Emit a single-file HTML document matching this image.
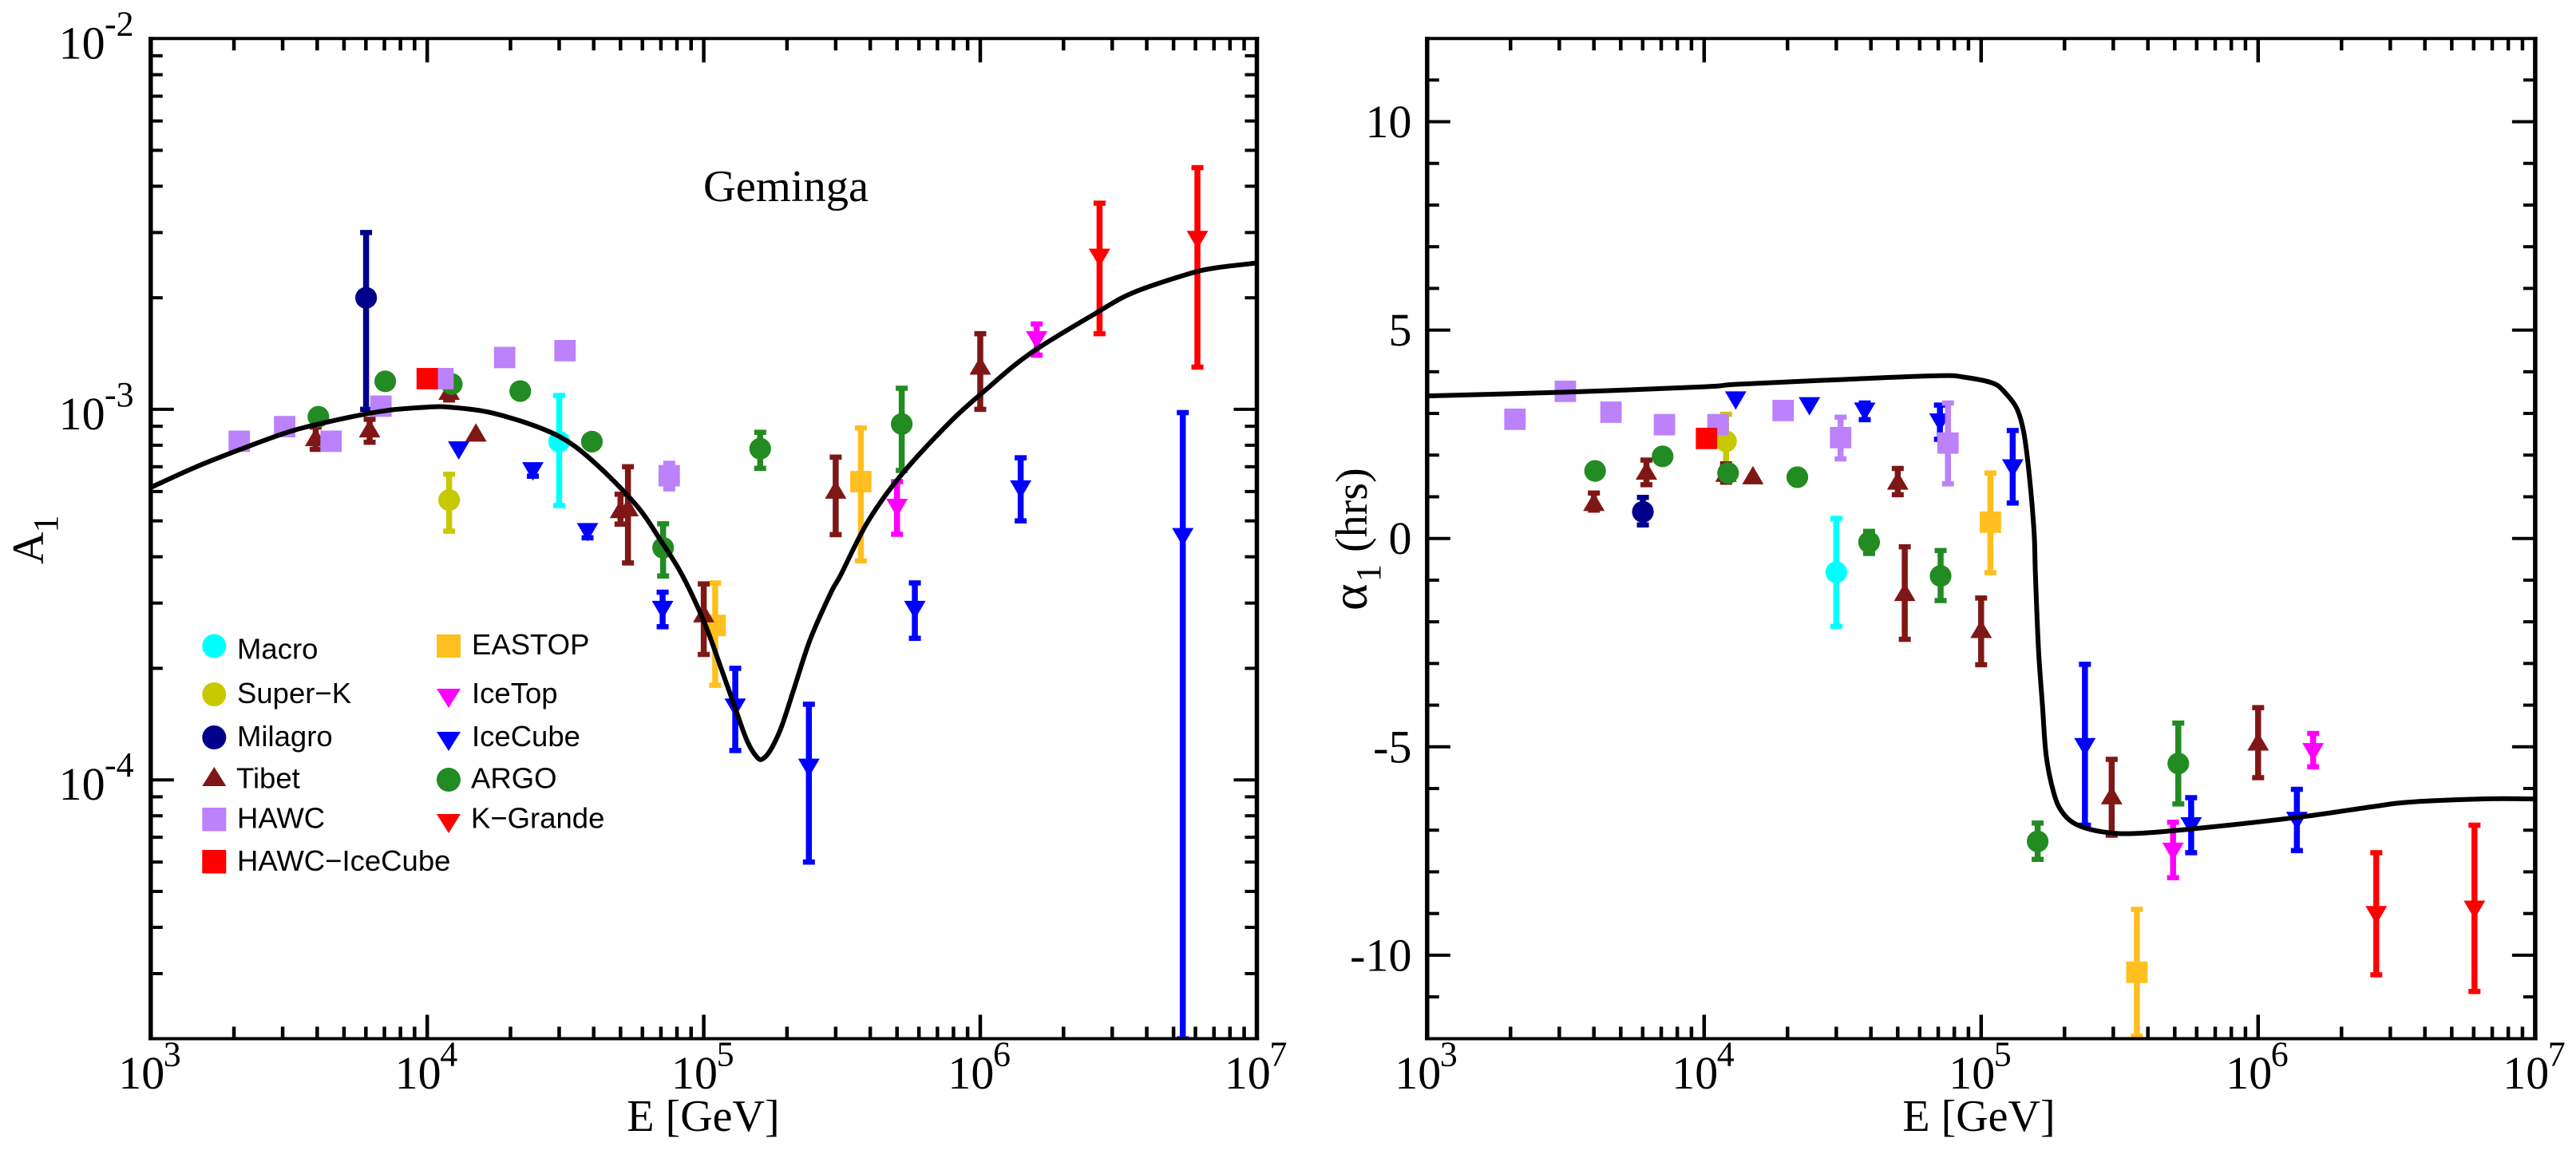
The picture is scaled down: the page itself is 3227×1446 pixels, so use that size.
<!DOCTYPE html>
<html lang="en">
<head>
<meta charset="utf-8">
<title>Geminga anisotropy amplitude and phase</title>
<style>
html,body{margin:0;padding:0;background:#fff;width:3227px;height:1446px;overflow:hidden}
svg{position:absolute;left:0;top:0;display:block}
.serif{font-family:"Liberation Serif",serif;fill:#000}
.sans{font-family:"Liberation Sans",sans-serif;fill:#000;font-size:36.5px}
</style>
</head>
<body>
<svg id="chart" xmlns="http://www.w3.org/2000/svg" width="3227" height="1446" viewBox="0 0 3227 1446">
  <rect x="0" y="0" width="3227" height="1446" fill="#ffffff"/>
  <defs>
    <clipPath id="clip-left"><rect x="189" y="48" width="1386" height="1254"/></clipPath>
    <clipPath id="clip-right"><rect x="1788" y="48" width="1388" height="1254"/></clipPath>
  </defs>
  <g id="panel-left"></g>
  <g id="panel-right"></g>

  <text class="serif" x="881" y="252" font-size="56.5">Geminga</text>
  <text class="serif" x="881" y="1417" font-size="56" text-anchor="middle">E [GeV]</text>
  <text class="serif" x="2479" y="1417" font-size="56" text-anchor="middle">E [GeV]</text>
  <text class="serif" transform="translate(54,707) rotate(-90)" font-size="56">A<tspan font-size="44" dy="18" dx="-1">1</tspan></text>
  <text class="serif" transform="translate(1712,765) rotate(-90)"><tspan font-size="64" x="0">α</tspan><tspan font-size="44" x="36" dy="17">1</tspan><tspan font-size="56" x="73" dy="-17">(hrs)</tspan></text>

  <g>
    <g><circle cx="268.3" cy="809.5" r="15" fill="#00ffff"/><text class="sans" x="297" y="825.5">Macro</text></g>
    <g><circle cx="268.3" cy="870" r="15" fill="#c8c800"/><text class="sans" x="297" y="881">Super−K</text></g>
    <g><circle cx="268.3" cy="924" r="15" fill="#00008b"/><text class="sans" x="297" y="935">Milagro</text></g>
    <g><polygon points="268.3,961 283.3,985 253.3,985" fill="#7f1717"/><text class="sans" x="296" y="987.5">Tibet</text></g>
    <g><rect x="253.3" y="1012" width="30" height="29.5" fill="#bb82fb"/><text class="sans" x="297" y="1037.5">HAWC</text></g>
    <g><rect x="253.3" y="1065" width="30" height="29.5" fill="#ff0000"/><text class="sans" x="297" y="1091">HAWC−IceCube</text></g>
    <g><rect x="547" y="795" width="30" height="29" fill="#ffbf1f"/><text class="sans" x="591" y="820">EASTOP</text></g>
    <g><polygon points="547,863 577,863 562,887" fill="#ff00ff"/><text class="sans" x="591" y="881">IceTop</text></g>
    <g><polygon points="547,917 577,917 562,941" fill="#0000ff"/><text class="sans" x="591" y="935">IceCube</text></g>
    <g><circle cx="562" cy="977" r="15" fill="#228b22"/><text class="sans" x="590" y="987.5">ARGO</text></g>
    <g><polygon points="547,1020 577,1020 562,1044" fill="#ff0000"/><text class="sans" x="590" y="1037.5">K−Grande</text></g>
  </g>
</svg>

<script>
// ---------- axis ticks ----------
const xDecadeExponents = [3, 4, 5, 6, 7];
const ampDecadeExponents = [-2, -3, -4];
const ampMinorExponents = [-5, -4, -3];
const minorMultipliers = [2, 3, 4, 5, 6, 7, 8, 9];
const phaseMajorTicks = [-10, -5, 0, 5, 10];
const phaseMinorTicks = [-11, -9, -8, -7, -6, -4, -3, -2, -1, 1, 2, 3, 4, 6, 7, 8, 9, 11];

// ---------- amplitude panel A1 vs E ----------
const ampMacroE = [30000];
const ampMacroV = [8.18e-4];
const ampMacroHi = [1.09e-3];
const ampMacroLo = [5.5e-4];

const ampSuperKE = [12000];
const ampSuperKV = [5.69e-4];
const ampSuperKHi = [6.68e-4];
const ampSuperKLo = [4.69e-4];

const ampMilagroE = [6010];
const ampMilagroV = [2.0e-3];
const ampMilagroHi = [3.0e-3];
const ampMilagroLo = [1.0e-3];

const ampEastopE = [110000, 370000];
const ampEastopV = [2.61e-4, 6.38e-4];
const ampEastopHi = [3.4e-4, 8.91e-4];
const ampEastopLo = [1.8e-4, 3.9e-4];

const ampIceTopE = [500000, 1.6e6];
const ampIceTopV = [5.43e-4, 1.54e-3];
const ampIceTopHi = [6.38e-4, 1.7e-3];
const ampIceTopLo = [4.6e-4, 1.4e-3];

const ampIceCubeE = [13000, 24100, 38000, 71000, 130000, 240000, 580000, 1.4e6, 5.4e6];
const ampIceCubeV = [7.76e-4, 6.82e-4, 4.67e-4, 2.88e-4, 1.57e-4, 1.08e-4, 2.88e-4, 6.09e-4, 4.53e-4];
const ampIceCubeHi = [null, 7.0e-4, 4.85e-4, 3.21e-4, 2.0e-4, 1.6e-4, 3.4e-4, 7.4e-4, 9.8e-4];
const ampIceCubeLo = [null, 6.6e-4, 4.5e-4, 2.59e-4, 1.2e-4, 6.0e-5, 2.41e-4, 5.0e-4, 2.0e-5];

const ampKGrandeE = [2.7e6, 6.1e6];
const ampKGrandeV = [2.57e-3, 2.87e-3];
const ampKGrandeHi = [3.6e-3, 4.49e-3];
const ampKGrandeLo = [1.6e-3, 1.3e-3];

const ampTibetE = [3950, 6190, 12000, 15000, 50000, 53200, 100000, 300000, 1.0e6];
const ampTibetV = [8.4e-4, 8.87e-4, 1.12e-3, 8.64e-4, 5.37e-4, 5.43e-4, 2.81e-4, 6.06e-4, 1.31e-3];
const ampTibetHi = [8.96e-4, 9.4e-4, 1.18e-3, null, 5.9e-4, 7.0e-4, 3.38e-4, 7.43e-4, 1.6e-3];
const ampTibetLo = [7.8e-4, 8.15e-4, 1.06e-3, null, 4.9e-4, 3.85e-4, 2.18e-4, 4.59e-4, 1.0e-3];

const ampArgoE = [4040, 7050, 12270, 21700, 39400, 71300, 160000, 520000];
const ampArgoV = [9.55e-4, 1.19e-3, 1.17e-3, 1.12e-3, 8.18e-4, 4.23e-4, 7.83e-4, 9.13e-4];
const ampArgoHi = [null, null, null, null, 8.45e-4, 4.91e-4, 8.67e-4, 1.14e-3];
const ampArgoLo = [null, null, null, null, 7.9e-4, 3.55e-4, 6.93e-4, 6.84e-4];

const ampHawcE = [2090, 3050, 4490, 6800, 11400, 19050, 31500, 75000];
const ampHawcV = [8.2e-4, 8.98e-4, 8.2e-4, 1.02e-3, 1.21e-3, 1.38e-3, 1.44e-3, 6.62e-4];
const ampHawcHi = [null, null, null, null, null, null, null, 7.15e-4];
const ampHawcLo = [null, null, null, null, null, null, null, 6.1e-4];

const ampHawcIceCubeE = [10000];
const ampHawcIceCubeV = [1.21e-3];
const ampHawcIceCubeHi = [null];
const ampHawcIceCubeLo = [null];

const ampCurveLogE = [3, 3.162, 3.339, 3.516, 3.708, 3.855, 4.003, 4.077, 4.224, 4.401, 4.519, 4.637, 4.763, 4.84, 4.921, 5.002, 5.061, 5.113, 5.157, 5.194, 5.216, 5.245, 5.282, 5.326, 5.385, 5.459, 5.496, 5.592, 5.71, 5.887, 6.019, 6.181, 6.417, 6.55, 6.742, 6.845, 7];
const ampCurveLogV = [-3.211, -3.156, -3.104, -3.057, -3.023, -3.003, -2.994, -2.994, -3.008, -3.048, -3.092, -3.166, -3.265, -3.349, -3.446, -3.575, -3.695, -3.805, -3.895, -3.94, -3.942, -3.915, -3.855, -3.755, -3.621, -3.496, -3.446, -3.305, -3.181, -3.037, -2.948, -2.849, -2.741, -2.686, -2.637, -2.619, -2.605];

// ---------- phase panel alpha1 vs E ----------
const phaMacroE = [30000];
const phaMacroV = [-0.81];
const phaMacroHi = [0.48];
const phaMacroLo = [-2.11];

const phaSuperKE = [12000];
const phaSuperKV = [2.33];
const phaSuperKHi = [2.98];
const phaSuperKLo = [1.75];

const phaMilagroE = [6010];
const phaMilagroV = [0.64];
const phaMilagroHi = [0.985];
const phaMilagroLo = [0.325];

const phaEastopE = [108000, 365000];
const phaEastopV = [0.39, -10.41];
const phaEastopHi = [1.57, -8.9];
const phaEastopLo = [-0.82, -11.94];

const phaIceTopE = [493000, 1.58e6];
const phaIceTopV = [-7.51, -5.12];
const phaIceTopHi = [-6.81, -4.68];
const phaIceTopLo = [-8.14, -5.48];

const phaIceCubeE = [13000, 24000, 38000, 71000, 130000, 237000, 573000, 1.38e6];
const phaIceCubeV = [3.32, 3.18, 3.05, 2.79, 1.69, -5.0, -6.9, -6.77];
const phaIceCubeHi = [null, null, 3.25, 3.2, 2.59, -3.02, -6.22, -6.02];
const phaIceCubeLo = [null, null, 2.85, 2.38, 0.85, -6.88, -7.54, -7.49];

const phaKGrandeE = [2.67e6, 6.04e6];
const phaKGrandeV = [-9.03, -8.9];
const phaKGrandeHi = [-7.54, -6.88];
const phaKGrandeLo = [-10.47, -10.87];

const phaTibetE = [4000, 6190, 12000, 15000, 50000, 53000, 100000, 296000, 1.0e6];
const phaTibetV = [0.87, 1.62, 1.57, 1.51, 1.38, -1.29, -2.18, -6.17, -4.88];
const phaTibetHi = [1.09, 1.88, 1.79, null, 1.68, -0.2, -1.43, -5.3, -4.06];
const phaTibetLo = [0.68, 1.29, 1.35, null, 1.05, -2.42, -3.03, -7.12, -5.74];

const phaArgoE = [4040, 7080, 12200, 21700, 39400, 71400, 160000, 515000];
const phaArgoV = [1.62, 1.97, 1.57, 1.47, -0.09, -0.9, -7.27, -5.4];
const phaArgoHi = [null, null, null, null, 0.17, -0.29, -6.83, -4.43];
const phaArgoLo = [null, null, null, null, -0.36, -1.49, -7.7, -6.37];

const phaHawcE = [2075, 3155, 4610, 7190, 11220, 19280, 31100, 75900];
const phaHawcV = [2.86, 3.53, 3.03, 2.73, 2.73, 3.07, 2.42, 2.29];
const phaHawcHi = [null, null, null, null, null, null, 2.91, 3.25];
const phaHawcLo = [null, null, null, null, null, null, 1.91, 1.31];

const phaHawcIceCubeE = [10200];
const phaHawcIceCubeV = [2.4];
const phaHawcIceCubeHi = [null];
const phaHawcIceCubeLo = [null];

const phaCurveLogE = [3, 3.499, 4.003, 4.12, 4.519, 4.85, 4.938, 5.041, 5.085, 5.129, 5.154, 5.173, 5.191, 5.196, 5.207, 5.221, 5.235, 5.262, 5.291, 5.343, 5.438, 5.556, 5.761, 6.144, 6.409, 6.541, 6.806, 7];
const phaCurveV = [3.42, 3.51, 3.64, 3.7, 3.82, 3.906, 3.87, 3.73, 3.51, 3.115, 2.54, 1.57, 0.167, -0.87, -2.65, -3.97, -5.22, -6.1, -6.55, -6.86, -7.04, -7.08, -6.97, -6.69, -6.44, -6.33, -6.25, -6.25];

// ---------- rendering ----------
const NS = 'http://www.w3.org/2000/svg';
function node(tag, attrs, parent) {
  const el = document.createElementNS(NS, tag);
  for (const k in attrs) el.setAttribute(k, attrs[k]);
  parent.appendChild(el);
  return el;
}

const TOP = 48.2, BOTTOM = 1301.5;
function xAmp(E) { return 188.8 + (Math.log10(E) - 3) * 346.4; }
function xPha(E) { return 1787.8 + (Math.log10(E) - 3) * 347; }
function yAmp(A) { return 512.9 + (-3 - Math.log10(A)) * 464.3; }
function yPha(v) { return 674.7 - v * 52.22; }

function lineEl(parent, name, x1, y1, x2, y2, width) {
  const el = node('line', {x1: x1, y1: y1, x2: x2, y2: y2, stroke: '#000', 'stroke-width': width}, parent);
  
  
  return el;
}

function drawXAxis(parent, xScale, left, right, axisKey) {
  xDecadeExponents.forEach(function (exp) {
    const px = xScale(Math.pow(10, exp));
    if (exp > 3 && exp < 7) {
      lineEl(parent, axisKey + '-x-major-tick-bottom', px, BOTTOM, px, BOTTOM - 30, 4.5);
      lineEl(parent, axisKey + '-x-major-tick-top', px, TOP, px, TOP + 30, 4.5);
    }
    if (exp < 7) {
      minorMultipliers.forEach(function (m) {
        const mx = xScale(m * Math.pow(10, exp));
        lineEl(parent, axisKey + '-x-minor-tick-bottom', mx, BOTTOM, mx, BOTTOM - 15, 4.5);
        lineEl(parent, axisKey + '-x-minor-tick-top', mx, TOP, mx, TOP + 15, 4.5);
      });
    }
    const t = node('text', {x: px - 40.6, y: 1364, 'font-size': 58, class: 'serif'}, parent);
    
    
    t.textContent = '10';
    const s = node('text', {x: px + 16, y: 1335.5, 'font-size': 44, class: 'serif'}, parent);
    
    
    s.textContent = String(exp);
  });
}

function drawFrame(parent, left, right, axisKey) {
  lineEl(parent, axisKey + '-frame-top', left - 2.75, TOP, right + 2.75, TOP, 4);
  lineEl(parent, axisKey + '-frame-bottom', left - 2.75, BOTTOM, right + 2.75, BOTTOM, 4);
  lineEl(parent, axisKey + '-frame-left', left, TOP - 2, left, BOTTOM + 2, 5.5);
  lineEl(parent, axisKey + '-frame-right', right, TOP - 2, right, BOTTOM + 2, 5.5);
}

function drawAmpYAxis(parent, left, right) {
  ampDecadeExponents.forEach(function (exp) {
    const py = yAmp(Math.pow(10, exp));
    if (exp < -2) {
      lineEl(parent, 'amplitude-y-major-tick-left', left, py, left + 29, py, 4);
      lineEl(parent, 'amplitude-y-major-tick-right', right, py, right - 29, py, 4);
    }
    const t = node('text', {x: 73.6, y: py + 25, 'font-size': 58, class: 'serif'}, parent);
    
    
    t.textContent = '10';
    const s = node('text', {x: 131, y: py - 4, 'font-size': 44, class: 'serif'}, parent);
    
    
    s.textContent = String(exp);
  });
  ampMinorExponents.forEach(function (exp) {
    minorMultipliers.forEach(function (m) {
      if (exp === -5 && m === 2) return;
      const py = yAmp(m * Math.pow(10, exp));
      lineEl(parent, 'amplitude-y-minor-tick-left', left, py, left + 15, py, 4);
      lineEl(parent, 'amplitude-y-minor-tick-right', right, py, right - 15, py, 4);
    });
  });
}

function drawPhaYAxis(parent, left, right) {
  phaseMajorTicks.forEach(function (v) {
    const py = yPha(v);
    lineEl(parent, 'phase-y-major-tick-left', left, py, left + 29, py, 4);
    lineEl(parent, 'phase-y-major-tick-right', right, py, right - 29, py, 4);
    const t = node('text', {x: 1768.5, y: py + 19.5, 'font-size': 58, 'text-anchor': 'end', class: 'serif'}, parent);
    
    
    t.textContent = String(v);
  });
  phaseMinorTicks.forEach(function (v) {
    const py = yPha(v);
    lineEl(parent, 'phase-y-minor-tick-left', left, py, left + 15, py, 4);
    lineEl(parent, 'phase-y-minor-tick-right', right, py, right - 15, py, 4);
  });
}

function drawMarker(g, shape, color, px, py) {
  if (shape === 'circle') {
    node('circle', {cx: px, cy: py, r: 13.6, fill: color}, g);
  } else if (shape === 'square') {
    node('rect', {x: px - 13.4, y: py - 13.4, width: 26.8, height: 26.8, fill: color}, g);
  } else if (shape === 'up') {
    node('polygon', {points: px + ',' + (py - 12) + ' ' + (px + 13.5) + ',' + (py + 11) + ' ' + (px - 13.5) + ',' + (py + 11), fill: color}, g);
  } else {
    node('polygon', {points: (px - 13.5) + ',' + (py - 11) + ' ' + (px + 13.5) + ',' + (py - 11) + ' ' + px + ',' + (py + 12), fill: color}, g);
  }
}

function drawSeries(parent, panelKey, xScale, yScale, key, color, shape, E, V, Hi, Lo) {
  const group = node('g', {}, parent);
  
  
  E.forEach(function (e, i) {
    const px = xScale(e), py = yScale(V[i]);
    const pt = node('g', {}, group);
    
    
    if (Hi[i] !== null && Lo[i] !== null) {
      const yh = yScale(Hi[i]), yl = yScale(Lo[i]);
      node('line', {x1: px, x2: px, y1: yh, y2: yl, stroke: color, 'stroke-width': 7.5}, pt);
      node('rect', {x: px - 7.5, y: yh - 3.25, width: 15, height: 6.5, fill: color}, pt);
      node('rect', {x: px - 7.5, y: yl - 3.25, width: 15, height: 6.5, fill: color}, pt);
    }
    drawMarker(pt, shape, color, px, py);
  });
}

// Smooth path through the read points (Catmull-Rom converted to cubic Beziers)
function drawCurve(parent, name, xs, ys) {
  let d = 'M' + xs[0].toFixed(2) + ' ' + ys[0].toFixed(2);
  for (let i = 0; i < xs.length - 1; i++) {
    const i0 = Math.max(i - 1, 0), i3 = Math.min(i + 2, xs.length - 1);
    const c1x = xs[i] + (xs[i + 1] - xs[i0]) / 6, c1y = ys[i] + (ys[i + 1] - ys[i0]) / 6;
    const c2x = xs[i + 1] - (xs[i3] - xs[i]) / 6, c2y = ys[i + 1] - (ys[i3] - ys[i]) / 6;
    d += 'C' + c1x.toFixed(2) + ' ' + c1y.toFixed(2) + ' ' + c2x.toFixed(2) + ' ' + c2y.toFixed(2) + ' ' + xs[i + 1].toFixed(2) + ' ' + ys[i + 1].toFixed(2);
  }
  const c = node('path', {d: d, fill: 'none', stroke: '#000', 'stroke-width': 6, 'stroke-linejoin': 'round'}, parent);
  
  
}

// ----- left panel -----
const left = document.getElementById('panel-left');
const leftMarks = node('g', {'clip-path': 'url(#clip-left)'}, left);


drawSeries(leftMarks, 'amplitude', xAmp, yAmp, 'macro', '#00ffff', 'circle', ampMacroE, ampMacroV, ampMacroHi, ampMacroLo);
drawSeries(leftMarks, 'amplitude', xAmp, yAmp, 'super-k', '#c8c800', 'circle', ampSuperKE, ampSuperKV, ampSuperKHi, ampSuperKLo);
drawSeries(leftMarks, 'amplitude', xAmp, yAmp, 'milagro', '#00008b', 'circle', ampMilagroE, ampMilagroV, ampMilagroHi, ampMilagroLo);
drawSeries(leftMarks, 'amplitude', xAmp, yAmp, 'eastop', '#ffbf1f', 'square', ampEastopE, ampEastopV, ampEastopHi, ampEastopLo);
drawSeries(leftMarks, 'amplitude', xAmp, yAmp, 'icetop', '#ff00ff', 'down', ampIceTopE, ampIceTopV, ampIceTopHi, ampIceTopLo);
drawSeries(leftMarks, 'amplitude', xAmp, yAmp, 'icecube', '#0000ff', 'down', ampIceCubeE, ampIceCubeV, ampIceCubeHi, ampIceCubeLo);
drawSeries(leftMarks, 'amplitude', xAmp, yAmp, 'k-grande', '#ff0000', 'down', ampKGrandeE, ampKGrandeV, ampKGrandeHi, ampKGrandeLo);
drawSeries(leftMarks, 'amplitude', xAmp, yAmp, 'tibet', '#7f1717', 'up', ampTibetE, ampTibetV, ampTibetHi, ampTibetLo);
drawSeries(leftMarks, 'amplitude', xAmp, yAmp, 'argo', '#228b22', 'circle', ampArgoE, ampArgoV, ampArgoHi, ampArgoLo);
drawSeries(leftMarks, 'amplitude', xAmp, yAmp, 'hawc', '#bb82fb', 'square', ampHawcE, ampHawcV, ampHawcHi, ampHawcLo);
drawSeries(leftMarks, 'amplitude', xAmp, yAmp, 'hawc-icecube', '#ff0000', 'square', ampHawcIceCubeE, ampHawcIceCubeV, ampHawcIceCubeHi, ampHawcIceCubeLo);
drawCurve(leftMarks, 'amplitude-model-curve',
  ampCurveLogE.map(function (v) { return xAmp(Math.pow(10, v)); }),
  ampCurveLogV.map(function (v) { return yAmp(Math.pow(10, v)); }));
drawXAxis(left, xAmp, 188.8, 1574.5, 'amplitude');
drawAmpYAxis(left, 188.8, 1574.5);
drawFrame(left, 188.8, 1574.5, 'amplitude');

// ----- right panel -----
const right = document.getElementById('panel-right');
const rightMarks = node('g', {'clip-path': 'url(#clip-right)'}, right);


drawSeries(rightMarks, 'phase', xPha, yPha, 'macro', '#00ffff', 'circle', phaMacroE, phaMacroV, phaMacroHi, phaMacroLo);
drawSeries(rightMarks, 'phase', xPha, yPha, 'super-k', '#c8c800', 'circle', phaSuperKE, phaSuperKV, phaSuperKHi, phaSuperKLo);
drawSeries(rightMarks, 'phase', xPha, yPha, 'milagro', '#00008b', 'circle', phaMilagroE, phaMilagroV, phaMilagroHi, phaMilagroLo);
drawSeries(rightMarks, 'phase', xPha, yPha, 'eastop', '#ffbf1f', 'square', phaEastopE, phaEastopV, phaEastopHi, phaEastopLo);
drawSeries(rightMarks, 'phase', xPha, yPha, 'icetop', '#ff00ff', 'down', phaIceTopE, phaIceTopV, phaIceTopHi, phaIceTopLo);
drawSeries(rightMarks, 'phase', xPha, yPha, 'icecube', '#0000ff', 'down', phaIceCubeE, phaIceCubeV, phaIceCubeHi, phaIceCubeLo);
drawSeries(rightMarks, 'phase', xPha, yPha, 'k-grande', '#ff0000', 'down', phaKGrandeE, phaKGrandeV, phaKGrandeHi, phaKGrandeLo);
drawSeries(rightMarks, 'phase', xPha, yPha, 'tibet', '#7f1717', 'up', phaTibetE, phaTibetV, phaTibetHi, phaTibetLo);
drawSeries(rightMarks, 'phase', xPha, yPha, 'argo', '#228b22', 'circle', phaArgoE, phaArgoV, phaArgoHi, phaArgoLo);
drawSeries(rightMarks, 'phase', xPha, yPha, 'hawc', '#bb82fb', 'square', phaHawcE, phaHawcV, phaHawcHi, phaHawcLo);
drawSeries(rightMarks, 'phase', xPha, yPha, 'hawc-icecube', '#ff0000', 'square', phaHawcIceCubeE, phaHawcIceCubeV, phaHawcIceCubeHi, phaHawcIceCubeLo);
drawCurve(rightMarks, 'phase-model-curve',
  phaCurveLogE.map(function (v) { return xPha(Math.pow(10, v)); }),
  phaCurveV.map(function (v) { return yPha(v); }));
drawXAxis(right, xPha, 1787.8, 3175.9, 'phase');
drawPhaYAxis(right, 1787.8, 3175.9);
drawFrame(right, 1787.8, 3175.9, 'phase');
</script>
</body>
</html>
